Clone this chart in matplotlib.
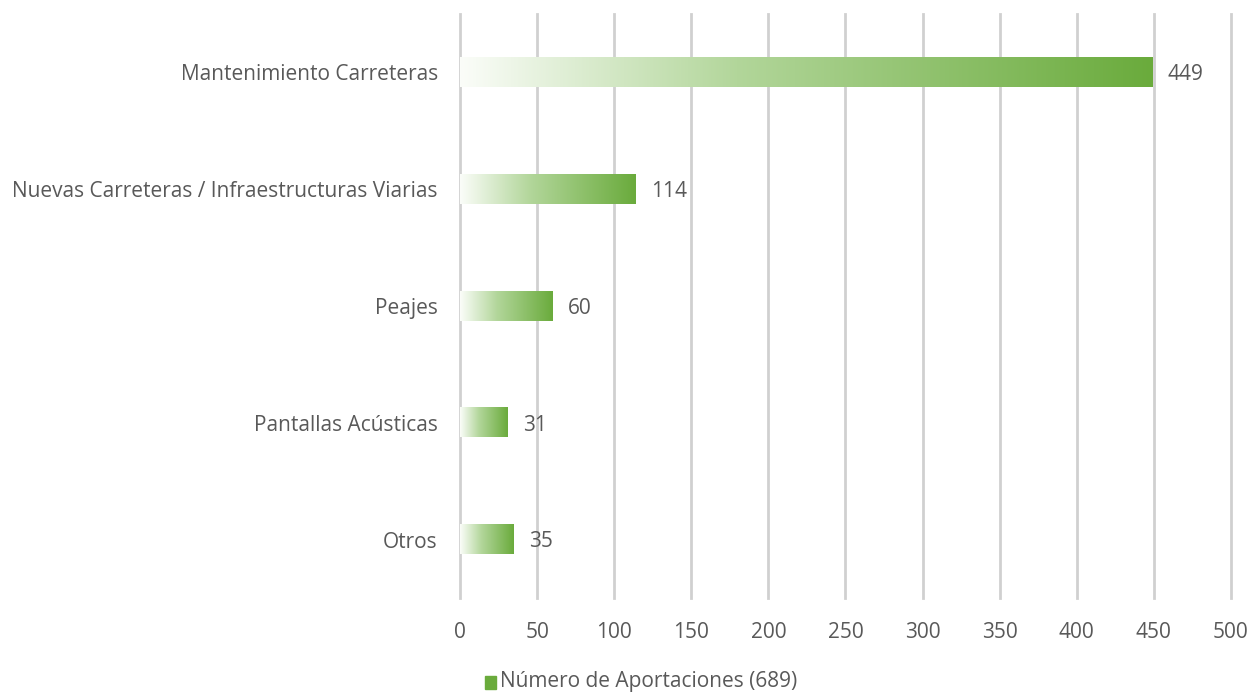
import numpy as np
import matplotlib.pyplot as plt
from matplotlib.colors import LinearSegmentedColormap
from matplotlib.patches import Rectangle

categories = ["Mantenimiento Carreteras", "Nuevas Carreteras / Infraestructuras Viarias",
              "Peajes", "Pantallas Acústicas", "Otros"]
values = [449, 114, 60, 31, 35]
x_ticks = [0, 50, 100, 150, 200, 250, 300, 350, 400, 450, 500]
legend_label = "Número de Aportaciones (689)"

plt.rcParams['font.family'] = ['Open Sans', 'DejaVu Sans']
text_color = "#595959"
green = "#6aab3c"
cmap = LinearSegmentedColormap.from_list(
    "g", [(0, "#fbfdf9"), (0.4, "#b2d69a"), (1, green)])
fs = 15

fig = plt.figure(figsize=(12.56, 6.93), dpi=100)
ax = fig.add_axes([460 / 1256, 1 - 598 / 693, 771 / 1256, 584 / 693])

y = np.arange(len(categories))
bar_h = 0.25
grad = np.linspace(0, 1, 256).reshape(1, -1)
for yi, v in zip(y, values):
    ax.imshow(grad, cmap=cmap, aspect="auto", extent=[0, v, yi + bar_h / 2, yi - bar_h / 2],
              zorder=2, interpolation="bilinear")
    ax.text(v + 10, yi + 0.02, str(v), va="center", ha="left", fontsize=fs, color=text_color)

ax.set_xlim(0, 500)
ax.set_ylim(len(categories) - 0.5, -0.5)
ax.set_yticks(y)
ax.set_yticklabels(categories, fontsize=fs, color=text_color)
ax.set_xticks(x_ticks)
ax.set_xticklabels([str(t) for t in x_ticks], fontsize=fs, color=text_color)
ax.tick_params(axis="both", length=0)
ax.tick_params(axis="x", pad=17)
ax.tick_params(axis="y", pad=16)
ax.grid(axis="x", color="#d0d0d0", linewidth=2, zorder=0)
for gl in ax.get_xgridlines():
    gl.set_clip_on(False)
ax.set_axisbelow(True)
for s in ax.spines.values():
    s.set_visible(False)

# legend: small green square + label
fig.patches.append(Rectangle((485 / 1256, 1 - 689 / 693), 11 / 1256, 13 / 693,
                             transform=fig.transFigure, color=green))
fig.text(500 / 1256, 1 - 682 / 693, legend_label, color=text_color, fontsize=fs,
         va="center", ha="left")

fig.savefig("out.png", dpi=100)
